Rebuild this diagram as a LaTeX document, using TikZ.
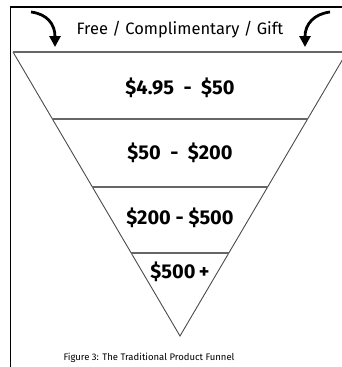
\documentclass[tikz,border=0pt]{standalone}
\usepackage{fontspec}
\setmainfont{Fira Sans}
\usetikzlibrary{arrows.meta}
\begin{document}
\begin{tikzpicture}[x=1pt,y=-1pt,
  frame/.style={line width=1.6pt,black},
  funnel/.style={line width=0.9pt,black!70},
  divider/.style={line width=1.2pt,black!60},
  curvedarrow/.style={line width=2.8pt,black,-{Triangle[width=11pt,length=11pt]}},
  price/.style={font=\fontsize{20}{22}\selectfont\bfseries,inner sep=0pt},
  toptext/.style={font=\fontsize{16.5}{18}\selectfont,inner sep=0pt},
  caption/.style={font=\fontsize{9.5}{11}\selectfont,inner sep=0pt}]
\useasboundingbox (0,0) rectangle (342,367);
\clip (0,0) rectangle (342,367);
\fill[white] (0,0) rectangle (342,367);
% frame
\draw[frame] (10.5,380) -- (10.5,7) -- (360,7);
% funnel corners
\coordinate (tl) at (13,52);
\coordinate (tr) at (347,52);
\coordinate (apex) at (180,336);
\coordinate (l1) at (52.5,119); \coordinate (r1) at (307.5,119);
\coordinate (l2) at (92,187);   \coordinate (r2) at (268,187);
\coordinate (l3) at (131,253);  \coordinate (r3) at (229,253);
\draw[funnel] (tl) -- (apex) -- (tr);
\draw[divider] (tl) -- (tr);
\draw[divider] (l1) -- (r1);
\draw[divider] (l2) -- (r2);
\draw[divider] (l3) -- (r3);
% arrows
\coordinate (a1s) at (31,12);
\coordinate (a1e) at (55,47);
\coordinate (a2s) at (330,12);
\coordinate (a2e) at (305,47);
\draw[curvedarrow] (a1s) .. controls (47,14) and (55,24) .. (a1e);
\draw[curvedarrow] (a2s) .. controls (314,14) and (305,24) .. (a2e);
% texts
\node[toptext] (free) at (180,30) {Free / Complimentary / Gift};
\node[price] (p1) at (180,88) {\$4.95\ \ -\ \ \$50};
\node[price] (p2) at (180,153) {\$50\ \ -\ \ \$200};
\node[price] (p3) at (180,218) {\$200 - \$500};
\node[price] (p4) at (180,272) {\$500\,+};
\node[caption] (cap) at (149,358) {Figure 3: The Traditional Product Funnel};
\end{tikzpicture}
\end{document}
